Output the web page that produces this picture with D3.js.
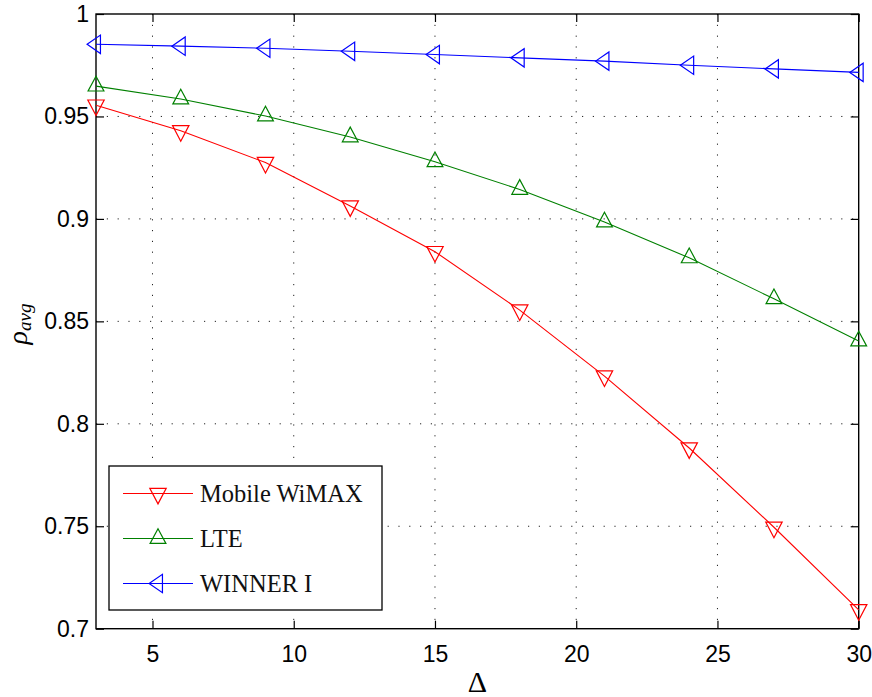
<!DOCTYPE html>
<html lang="en">
<head>
<meta charset="UTF-8">
<title>rho_avg vs Delta</title>
<script src="https://d3js.org/d3.v7.min.js"></script>
<style>
  body { margin: 0; background: #fff; }
  .tick text { font-family: "Liberation Sans", Arial, sans-serif; font-size: 23px; fill: #000; }
  .legend text { font-family: "Liberation Serif", "DejaVu Serif", serif; font-size: 24.5px; }
</style>
</head>
<body>
<div id="chart"></div>
<script>
// data
const delta = [3, 6, 9, 12, 15, 18, 21, 24, 27, 30];
const wimax = [0.9555, 0.9430, 0.9275, 0.9063, 0.8840, 0.8555, 0.8233, 0.7882, 0.7495, 0.7092];
const lte = [0.9648, 0.9585, 0.9502, 0.9400, 0.9279, 0.9144, 0.8985, 0.8810, 0.8610, 0.8404];
const winner = [0.9852, 0.9843, 0.9833, 0.9818, 0.9802, 0.9786, 0.9770, 0.9750, 0.9732, 0.9715];
const xTicks = [5, 10, 15, 20, 25, 30];
const yTicks = [0.7, 0.75, 0.8, 0.85, 0.9, 0.95, 1];

const series = [
  { name: "Mobile WiMAX", values: wimax, color: "#ff0000", marker: "down" },
  { name: "LTE", values: lte, color: "#008000", marker: "up" },
  { name: "WINNER I", values: winner, color: "#0000ff", marker: "left" }
];

const width = 872, height = 697;
const margin = { top: 14, right: 13.3, bottom: 68.3, left: 96 };
const w = width - margin.left - margin.right;
const h = height - margin.top - margin.bottom;

const svg = d3.select("#chart").append("svg")
  .attr("width", width)
  .attr("height", height);

const g = svg.append("g")
  .attr("transform", "translate(" + margin.left + "," + margin.top + ")");

const x = d3.scaleLinear().domain([3, 30]).range([0, w]);
const y = d3.scaleLinear().domain([0.7, 1]).range([h, 0]);

// dotted grid
g.append("g").selectAll("line")
  .data(xTicks.filter(d => d < 30))
  .enter().append("line")
  .attr("x1", d => x(d)).attr("x2", d => x(d))
  .attr("y1", 0).attr("y2", h)
  .attr("stroke", "#222").attr("stroke-width", 1)
  .attr("stroke-dasharray", "1.2,9.6");
g.append("g").selectAll("line")
  .data(yTicks.filter(d => d > 0.7 && d < 1))
  .enter().append("line")
  .attr("y1", d => y(d)).attr("y2", d => y(d))
  .attr("x1", 0).attr("x2", w)
  .attr("stroke", "#222").attr("stroke-width", 1)
  .attr("stroke-dasharray", "1.2,9.6");

// axes (inward ticks on all sides)
const tickLen = 8;
g.append("g")
  .attr("transform", "translate(0," + h + ")")
  .call(d3.axisBottom(x).tickValues(xTicks).tickSizeInner(-tickLen).tickSizeOuter(0).tickPadding(17))
  .call(a => a.select(".domain").remove());
g.append("g")
  .call(d3.axisTop(x).tickValues(xTicks).tickSizeInner(-tickLen).tickSizeOuter(0).tickFormat(""))
  .call(a => a.select(".domain").remove());
g.append("g")
  .call(d3.axisLeft(y).tickValues(yTicks).tickSizeInner(-tickLen).tickSizeOuter(0).tickPadding(7).tickFormat(d3.format("~g")))
  .call(a => a.select(".domain").remove());
g.append("g")
  .attr("transform", "translate(" + w + ",0)")
  .call(d3.axisRight(y).tickValues(yTicks).tickSizeInner(-tickLen).tickSizeOuter(0).tickFormat(""))
  .call(a => a.select(".domain").remove());
g.selectAll(".tick line").attr("stroke", "#000").attr("stroke-width", 1.2);

// box
g.append("rect")
  .attr("x", 0).attr("y", 0).attr("width", w).attr("height", h)
  .attr("fill", "none").attr("stroke", "#000").attr("stroke-width", 1.4);

// triangle markers, centroid at the data point
function markerPath(type) {
  if (type === "up") return "M0,-9.8 L7.9,4.9 L-7.9,4.9 Z";
  if (type === "down") return "M0,10.4 L8.2,-5.2 L-8.2,-5.2 Z";
  return "M-8.9,0 L4.45,-9.2 L4.45,9.2 Z";
}

const line = d3.line()
  .x((d, i) => x(delta[i]))
  .y(d => y(d));

series.forEach(s => {
  g.append("path")
    .datum(s.values)
    .attr("d", line)
    .attr("fill", "none")
    .attr("stroke", s.color)
    .attr("stroke-width", 1.1);
  g.append("g").selectAll("path")
    .data(s.values)
    .enter().append("path")
    .attr("transform", (d, i) => "translate(" + x(delta[i]) + "," + y(d) + ")")
    .attr("d", markerPath(s.marker))
    .attr("fill", "none")
    .attr("stroke", s.color)
    .attr("stroke-width", 1.2);
});

// legend
const legend = svg.append("g").attr("class", "legend")
  .attr("transform", "translate(109,466)");
legend.append("rect")
  .attr("width", 273).attr("height", 144)
  .attr("fill", "#fff").attr("stroke", "#000").attr("stroke-width", 1.3);
series.forEach((s, i) => {
  const row = legend.append("g").attr("transform", "translate(0," + (27.5 + i * 45) + ")");
  row.append("line")
    .attr("x1", 14).attr("x2", 84)
    .attr("stroke", s.color).attr("stroke-width", 1.1);
  row.append("path")
    .attr("transform", "translate(49,0)")
    .attr("d", markerPath(s.marker))
    .attr("fill", "none").attr("stroke", s.color).attr("stroke-width", 1.2);
  row.append("text")
    .attr("x", 91).attr("dy", "0.35em")
    .attr("fill", "#111")
    .text(s.name);
});

// axis labels
svg.append("text")
  .attr("x", margin.left + w / 2).attr("y", 692)
  .attr("text-anchor", "middle")
  .style("font-family", "'Liberation Serif', 'DejaVu Serif', serif")
  .style("font-size", "30px")
  .text("Δ");

const yl = svg.append("text")
  .attr("transform", "translate(27,324) rotate(-90)")
  .attr("text-anchor", "middle")
  .style("font-family", "'Liberation Serif', 'DejaVu Serif', serif")
  .style("font-style", "italic")
  .style("font-size", "28px");
yl.append("tspan").text("ρ");
yl.append("tspan").attr("dy", 4).style("font-size", "19px").text("avg");
</script>
</body>
</html>
